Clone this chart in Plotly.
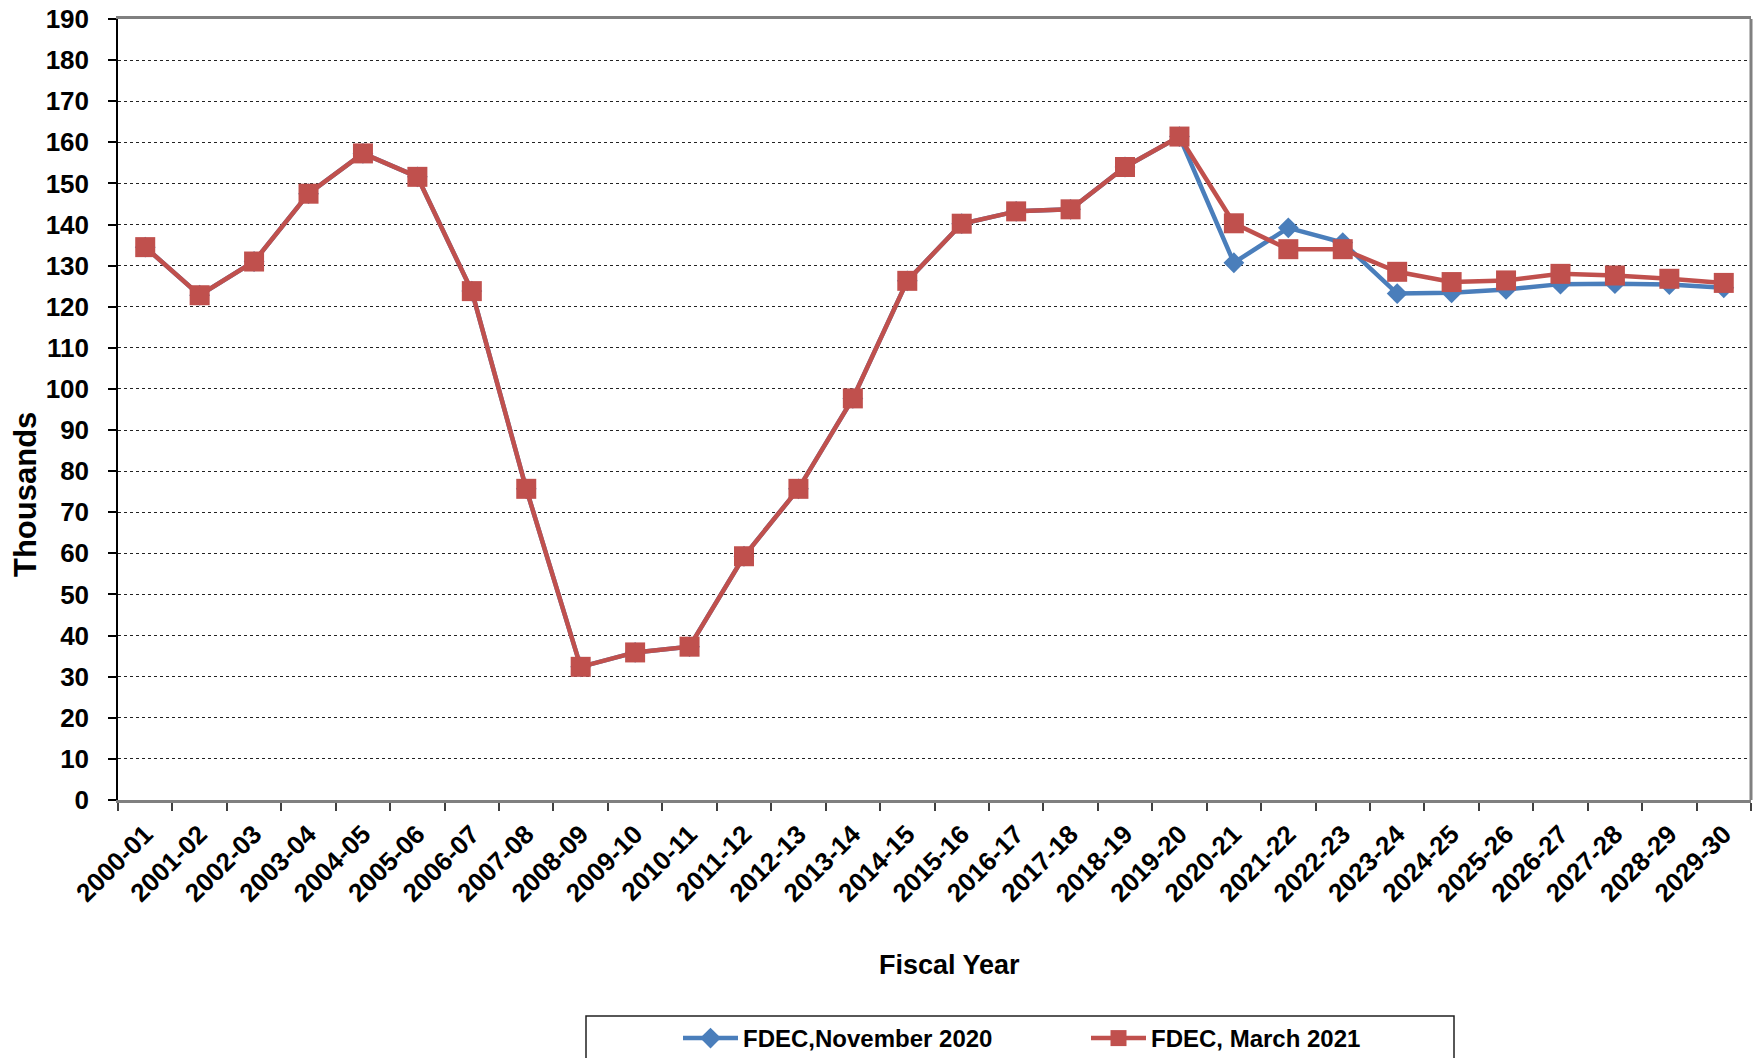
import plotly.graph_objects as go

years = ["2000-01", "2001-02", "2002-03", "2003-04", "2004-05", "2005-06", "2006-07",
         "2007-08", "2008-09", "2009-10", "2010-11", "2011-12", "2012-13", "2013-14",
         "2014-15", "2015-16", "2016-17", "2017-18", "2018-19", "2019-20", "2020-21",
         "2021-22", "2022-23", "2023-24", "2024-25", "2025-26", "2026-27", "2027-28",
         "2028-29", "2029-30"]

fdec_nov_2020 = [134.5, 122.8, 131.0, 147.5, 157.3, 151.6, 123.8, 75.7, 32.4, 35.9,
                 37.3, 59.3, 75.7, 97.7, 126.3, 140.2, 143.2, 143.7, 154.0, 161.4,
                 130.7, 139.2, 135.6, 123.2, 123.4, 124.2, 125.5, 125.6, 125.4, 124.6]

fdec_mar_2021 = [134.5, 122.8, 131.0, 147.5, 157.3, 151.6, 123.8, 75.7, 32.4, 35.9,
                 37.3, 59.3, 75.7, 97.7, 126.3, 140.2, 143.2, 143.7, 154.0, 161.4,
                 140.3, 134.0, 134.0, 128.5, 126.0, 126.4, 128.0, 127.6, 126.8, 125.8]

y_ticks = list(range(0, 200, 10))

FONT = "Liberation Sans, Arial, sans-serif"
BLUE = "#4A7EBB"
RED = "#C0504D"

W, H = 1756, 1058
L, R, T, B = 118, 5, 19, 258
PW = W - L - R
PH = H - T - B


def px_x(p):
    return (p - L) / PW


def px_y(p):
    return (H - B - p) / PH


fig = go.Figure()
fig.add_trace(go.Scatter(
    x=years, y=fdec_nov_2020, mode="lines+markers", name="FDEC,November 2020",
    line=dict(color=BLUE, width=4.5),
    marker=dict(symbol="diamond", size=16, color=BLUE),
))
fig.add_trace(go.Scatter(
    x=years, y=fdec_mar_2021, mode="lines+markers", name="FDEC, March 2021",
    line=dict(color=RED, width=4.5),
    marker=dict(symbol="square", size=20, color=RED),
))

fig.update_layout(
    width=W, height=H,
    margin=dict(l=L, r=R, t=T, b=B, autoexpand=False),
    paper_bgcolor="white", plot_bgcolor="white",
    font=dict(family=FONT, color="black"),
    showlegend=True,
    legend=dict(
        orientation="h", x=px_x(678), xanchor="left", y=px_y(1016), yanchor="top",
        font=dict(family=FONT, size=24, color="black", weight="bold"),
        bgcolor="rgba(0,0,0,0)", borderwidth=0,
        entrywidth=338, itemwidth=55,
    ),
    xaxis=dict(
        type="category", categoryorder="array", categoryarray=years,
        range=[-0.5, len(years) - 0.5],
        tickson="boundaries", ticks="outside", ticklen=8, tickwidth=1.5, tickcolor="#404040",
        tickangle=-45, tickfont=dict(family=FONT, size=26, color="black", weight="bold"),
        ticklabelstandoff=6,
        showline=True, linecolor="#808080", linewidth=2.5, mirror=True,
        showgrid=False, zeroline=False, fixedrange=True,
    ),
    yaxis=dict(
        range=[0, 190], tickvals=y_ticks, ticktext=[str(v) for v in y_ticks],
        ticks="outside", ticklen=8, tickwidth=1.5, tickcolor="black",
        tickfont=dict(family=FONT, size=26, color="black", weight="bold"),
        ticklabelstandoff=14,
        showline=True, linecolor="black", linewidth=1.5,
        showgrid=True, gridcolor="#222222", gridwidth=1, griddash="dot",
        zeroline=False, fixedrange=True,
    ),
    shapes=[
        dict(type="line", xref="paper", yref="paper", x0=1, x1=1, y0=0, y1=1,
             line=dict(color="#808080", width=3)),
        dict(type="rect", xref="paper", yref="paper",
             x0=px_x(586), x1=px_x(1454), y0=px_y(1016), y1=px_y(1075),
             line=dict(color="#202020", width=1.5), fillcolor="rgba(0,0,0,0)"),
    ],
    annotations=[
        dict(text="<b>Fiscal Year</b>", xref="paper", yref="paper",
             x=px_x(949), y=px_y(965), xanchor="center", yanchor="middle",
             showarrow=False, font=dict(family=FONT, size=27, color="black")),
        dict(text="<b>Thousands</b>", xref="paper", yref="paper",
             x=px_x(25), y=px_y(495), xanchor="center", yanchor="middle",
             textangle=-90, showarrow=False,
             font=dict(family=FONT, size=31, color="black")),
    ],
)

fig.write_html("out.html", config={"displayModeBar": False},
               post_script="document.body.style.margin='0';document.body.style.overflow='hidden';")
